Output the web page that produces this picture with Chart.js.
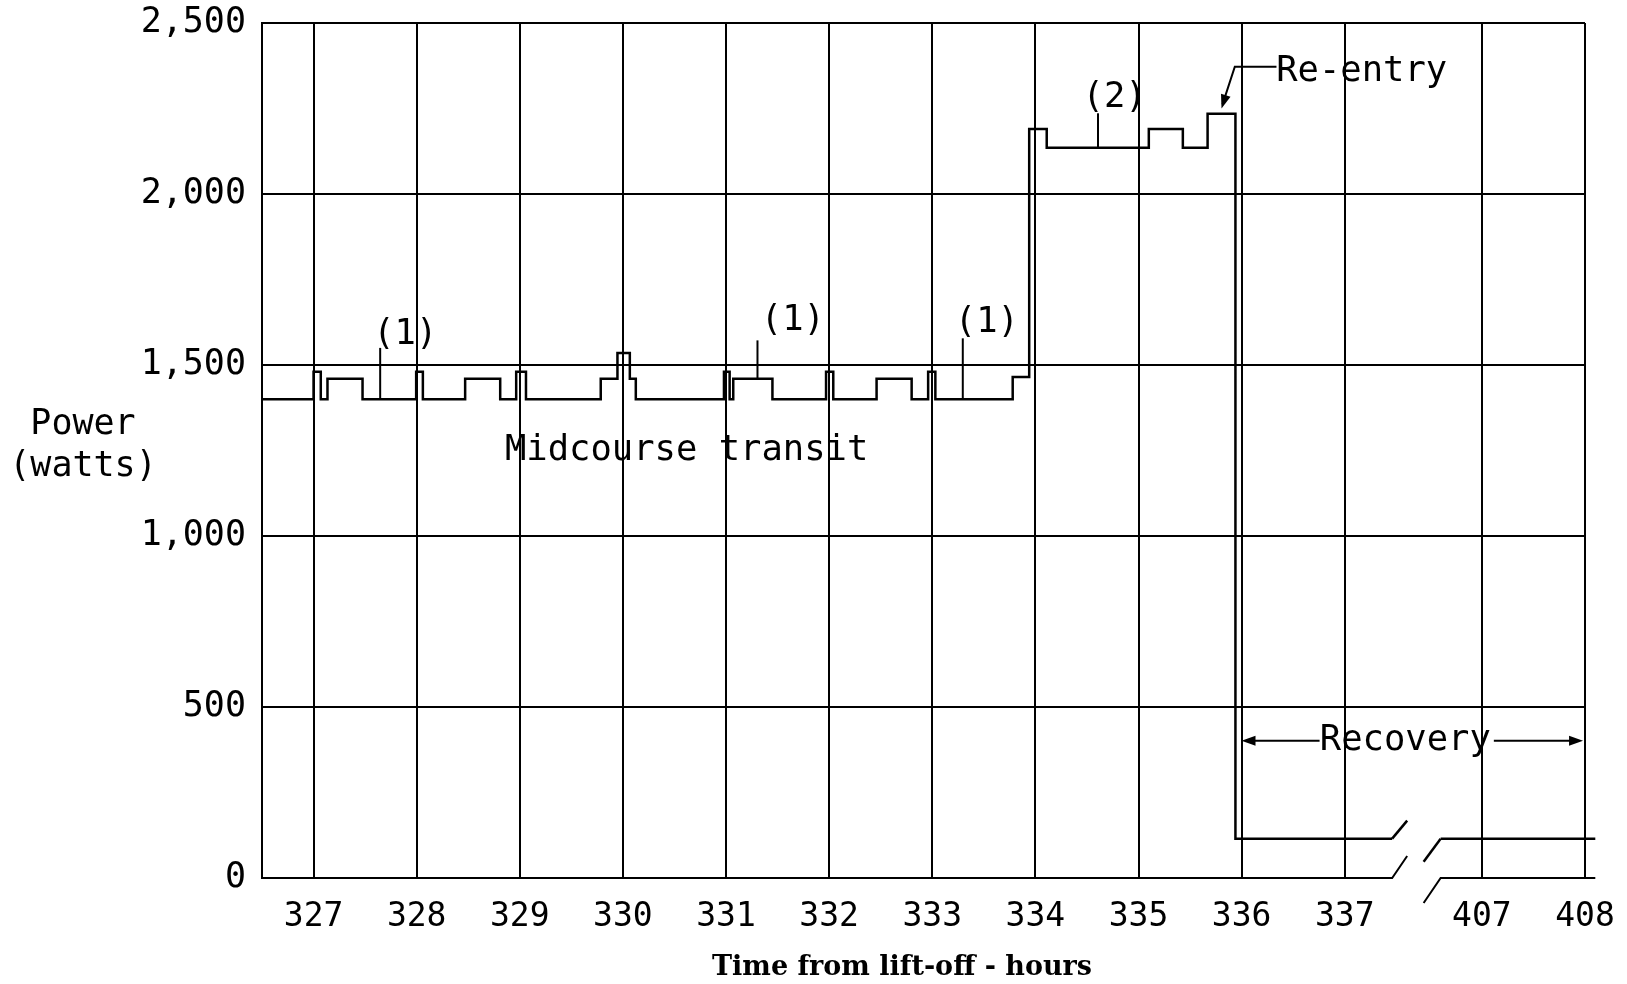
<!DOCTYPE html>
<html lang="en">
<head>
  <meta charset="UTF-8">
  <title>Power profile</title>
  <script src="https://cdn.jsdelivr.net/npm/chart.js"></script>
  <style>
    body { margin: 0; background: #fff; }
    #wrap { width: 1627px; height: 984px; }
  </style>
</head>
<body>
  <div id="wrap"><canvas id="powerChart" width="1627" height="984"></canvas></div>

  <script>
    // step trace: each level holds from its hour until the next hour (null = break in the time axis)
    const hours = [326.5, 327.0, 327.07, 327.135, 327.475, 327.995, 328.06, 328.47, 328.81,
                   328.965, 329.06, 329.785, 329.947, 330.067, 330.125, 330.98, 331.035, 331.07,
                   331.45, 331.97, 332.04, 332.46, 332.80, 332.96, 333.03, 333.78, 333.94,
                   334.11, 335.10, 335.43, 335.67, 335.94, 337.46, 337.47, 406.6, 408.1];
    const watts = [1400, 1480, 1400, 1460, 1400, 1480, 1400, 1460, 1400,
                   1480, 1400, 1460, 1535, 1460, 1400, 1480, 1400, 1460,
                   1400, 1480, 1400, 1460, 1400, 1480, 1400, 1465, 2190,
                   2135, 2190, 2135, 2235, 115, 115, null, 115, 115];

    const tickHours = [327, 328, 329, 330, 331, 332, 333, 334, 335, 336, 337, 407, 408];
    const powerTicks = [0, 500, 1000, 1500, 2000, 2500];

    // the time axis jumps from 337 straight to 407
    const JUMP_FROM = 407;
    const JUMP_TO = 338.33;
    function axisX(h) { return h > 400 ? h - JUMP_FROM + JUMP_TO : h; }
    function hourLabel(v) { return v > 338 ? Math.round(v - JUMP_TO + JUMP_FROM) : Math.round(v); }

    const MONO = '"DejaVu Sans Mono", monospace';

    // labels and leaders, in axis units
    const notes = [
      { text: '(1)', x: 327.889, y: 1596 },
      { text: '(1)', x: 331.648, y: 1639 },
      { text: '(1)', x: 333.529, y: 1632 },
      { text: '(2)', x: 334.769, y: 2290 },
      { text: 'Midcourse transit', x: 330.618, y: 1259 },
      { text: 'Re-entry', x: 337.164, y: 2365 },
      { text: 'Recovery', x: 337.587, y: 410 }
    ];
    const leaders = [
      [327.646, 1550, 1400],
      [331.305, 1572, 1460],
      [333.296, 1578, 1400],
      [334.607, 2236, 2135]
    ];

    function path(ctx, pts) {
      ctx.beginPath();
      ctx.moveTo(pts[0][0], pts[0][1]);
      for (let i = 1; i < pts.length; i++) ctx.lineTo(pts[i][0], pts[i][1]);
      ctx.stroke();
    }

    function arrowHead(ctx, fx, fy, tx, ty) {
      const a = Math.atan2(ty - fy, tx - fx);
      const len = 14, half = 5;
      ctx.beginPath();
      ctx.moveTo(tx, ty);
      ctx.lineTo(tx - len * Math.cos(a) + half * Math.sin(a), ty - len * Math.sin(a) - half * Math.cos(a));
      ctx.lineTo(tx - len * Math.cos(a) - half * Math.sin(a), ty - len * Math.sin(a) + half * Math.cos(a));
      ctx.closePath();
      ctx.fill();
    }

    const overlay = {
      id: 'overlay',
      afterDatasetsDraw(chart) {
        const { ctx, scales: { x, y } } = chart;
        const px = v => x.getPixelForValue(v);
        const py = v => y.getPixelForValue(v);
        ctx.save();
        ctx.strokeStyle = '#000';
        ctx.fillStyle = '#000';

        // bottom axis, broken between 337 and 407
        const gap = watts.indexOf(null);
        const cutA = px(axisX(hours[gap - 1]));
        const cutB = px(axisX(hours[gap + 1]));
        const endX = px(axisX(hours[hours.length - 1]));
        ctx.lineWidth = 2;
        path(ctx, [[chart.chartArea.left, py(0)], [cutA, py(0)], [cutA + 15, py(0) - 22]]);
        path(ctx, [[cutB - 17, py(0) + 25], [cutB, py(0)], [endX, py(0)]]);

        // break marks on the trace
        ctx.lineWidth = 2.5;
        const lowA = py(watts[gap - 1]);
        const lowB = py(watts[gap + 1]);
        path(ctx, [[cutA, lowA], [cutA + 15, lowA - 18]]);
        path(ctx, [[cutB - 17, lowB + 23], [cutB, lowB]]);

        // leaders
        ctx.lineWidth = 2;
        leaders.forEach(l => path(ctx, [[px(l[0]), py(l[1])], [px(l[0]), py(l[2])]]));

        // re-entry pointer
        path(ctx, [[px(336.338), py(2372)], [px(335.934), py(2372)], [px(335.815), py(2262)]]);
        arrowHead(ctx, px(335.934), py(2372), px(335.805), py(2250));

        // recovery span
        path(ctx, [[px(336.756), py(401)], [px(336.05), py(401)]]);
        arrowHead(ctx, px(336.756), py(401), px(335.999), py(401));
        path(ctx, [[px(338.446), py(401)], [px(339.25), py(401)]]);
        arrowHead(ctx, px(338.446), py(401), px(339.311), py(401));

        // text
        ctx.font = '35.5px ' + MONO;
        ctx.textAlign = 'center';
        ctx.textBaseline = 'middle';
        notes.forEach(n => ctx.fillText(n.text, px(n.x), py(n.y) + 3));

        ctx.font = '35px ' + MONO;
        ctx.fillText('Power', 83, 425);
        ctx.fillText('(watts)', 83, 467);

        ctx.font = 'bold 27px "DejaVu Serif", serif';
        ctx.textBaseline = 'alphabetic';
        ctx.fillText('Time from lift-off - hours', 902, 975);
        ctx.restore();
      }
    };

    const ctx = document.getElementById('powerChart').getContext('2d');
    const powerChart = new Chart(ctx, {
      type: 'line',
      data: {
        datasets: [{
          data: hours.map((h, i) => ({ x: axisX(h), y: watts[i] })),
          borderColor: '#000',
          borderWidth: 2.5,
          pointRadius: 0,
          stepped: 'before',
          spanGaps: false,
          clip: false
        }]
      },
      options: {
        responsive: false,
        animation: false,
        devicePixelRatio: 1,
        layout: { padding: { top: 23, right: 42, left: 0, bottom: 0 } },
        plugins: { legend: { display: false }, tooltip: { enabled: false } },
        scales: {
          x: {
            type: 'linear',
            min: 326.5,
            max: axisX(408),
            afterFit: s => { s.height = 106; s.paddingLeft = 0; s.paddingRight = 0; },
            afterBuildTicks: s => { s.ticks = tickHours.map(h => ({ value: axisX(h) })); },
            ticks: {
              callback: v => hourLabel(v),
              padding: 20,
              maxRotation: 0,
              autoSkip: false,
              color: '#000',
              font: { family: MONO, size: 33 }
            },
            grid: { color: '#000', lineWidth: 2, drawTicks: false },
            border: { display: false }
          },
          y: {
            min: 0,
            max: 2500,
            afterFit: s => { s.width = 262; s.paddingTop = 0; s.paddingBottom = 0; },
            afterBuildTicks: s => { s.ticks = powerTicks.map(v => ({ value: v })); },
            ticks: {
              callback: v => v.toLocaleString('en-US'),
              padding: 16,
              color: '#000',
              font: { family: MONO, size: 35 }
            },
            grid: {
              color: c => (c.tick && c.tick.value === 0) ? 'rgba(0,0,0,0)' : '#000',
              lineWidth: 2,
              drawTicks: false
            },
            border: { display: true, color: '#000', width: 2 }
          }
        }
      },
      plugins: [overlay]
    });
  </script>
</body>
</html>
